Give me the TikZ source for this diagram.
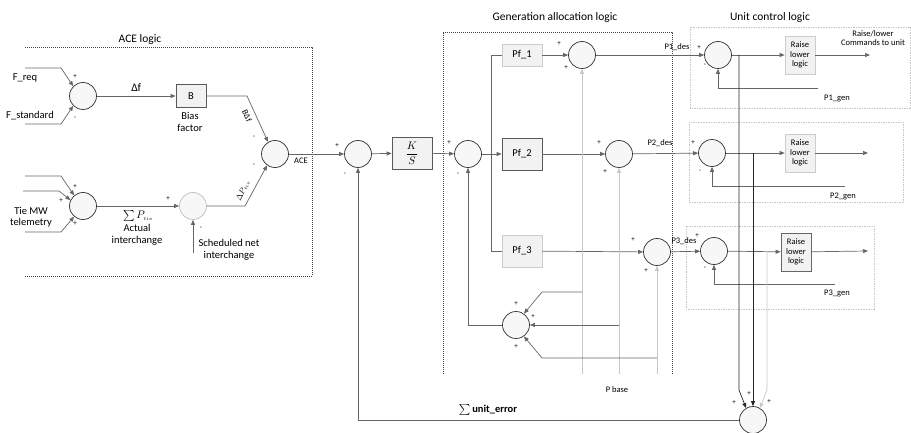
\documentclass[tikz,border=0pt]{standalone}
\usepackage{fontspec}
\setmainfont{Carlito}
\usepackage{amsmath}
\usepackage{tikz}
\usetikzlibrary{arrows.meta, positioning, calc}

\begin{document}
\begin{tikzpicture}[x=1pt, y=-1pt, line width=0.7pt,
  font=\fontsize{10.5}{11.5}\selectfont,
  sum/.style={draw=black!80, fill=black!3, circle, minimum size=27pt, inner sep=0pt},
  sumlt/.style={sum, draw=black!25},
  blk/.style={draw=black!65, fill=black!5, minimum width=40pt, minimum height=32pt, inner sep=1pt},
  blklt/.style={blk, draw=black!20},
  rl/.style={blklt, minimum width=30pt, minimum height=38pt, align=center, font=\fontsize{8.5}{9.5}\selectfont},
  arr/.style={draw=black!60, -{Triangle[length=5pt,width=4pt]}},
  arrlt/.style={draw=black!22, -{Triangle[length=5pt,width=4pt]}},
  line/.style={draw=black!60},
  dbox/.style={draw=black!75, line width=0.5pt, dash pattern=on 1pt off 1pt},
  ubox/.style={draw=black!22, line width=0.5pt, dash pattern=on 1.5pt off 1pt},
  sgn/.style={font=\fontsize{7}{7}\selectfont, inner sep=0pt},
  sml/.style={font=\fontsize{8.5}{9.5}\selectfont},
  ttl/.style={font=\fontsize{11.5}{12.5}\selectfont}]
  \useasboundingbox (0,0) rectangle (911,433);

  % group boxes
  \draw[dbox] (25,47) -- (312,47) -- (312,276) -- (25,276);
  \draw[dbox] (443,374) -- (443,32) -- (672,32) -- (672,374);
  \draw[ubox] (690,27) rectangle (910,108);
  \draw[ubox] (689,122) rectangle (903,202);
  \draw[ubox] (686,226) rectangle (874,309);
  \node[ttl] (tace) at (140,39) {ACE logic};
  \node[ttl] (tgen) at (555,17) {Generation allocation logic};
  \node[ttl] (tunit) at (770,17) {Unit control logic};

  % ACE logic
  \node[sum] (sf) at (83,96) {};
  \node[sum] (st) at (83,206) {};
  \node[blk, minimum width=30pt, minimum height=23pt] (b) at (191,96) {B};
  \node[sumlt] (ss) at (193,206) {};
  \node[sum] (sa) at (275,154) {};
  \node[align=center] (bias) at (190,122) {Bias\\factor};

  \coordinate (freq) at (25,68);
  \coordinate (fstd) at (25,124);
  \coordinate (tie1) at (25,176);
  \coordinate (tie2) at (23,191);
  \coordinate (tie3) at (25,232);
  \coordinate (sched) at (193,253);

  \draw[arr] (freq) -- ++(36,0) -- (sf.135);
  \draw[arr] (fstd) -- ++(36,0) -- (sf.225);
  \draw[arr] (tie1) -- ++(36,0) -- (st.130);
  \draw[arr] (tie2) -- ++(36,0) -- (st.155);
  \draw[arr] (tie3) -- ++(36,0) -- (st.230);
  \draw[arr] (sf) -- node[above=1pt, font=\fontsize{11.5}{12}\selectfont] {Δf} (b);
  \draw[arr] (b) -- ++(56,0) -- (sa.120);
  \draw[arr] (st) -- node[below=1pt] {$\sum P_{\scriptscriptstyle tie}$} (ss);
  \draw[arr] (sched) -- (ss);
  \draw[arr] (ss) -- ++(52,0) -- (sa.235);
  \node[sml, rotate=-65, inner sep=0pt] (lbdf) at (247,116) {BΔf};
  \node[sml, rotate=65, inner sep=0pt] (ldp) at (243,191) {$\Delta P_{\scriptscriptstyle tie}$};

  \node (lfreq) at (25,78) {F\_req};
  \node (lfstd) at (30,116) {F\_standard};
  \node[align=center] (ltie) at (31,217) {Tie MW\\telemetry};
  \node[align=center] (lact) at (137,235) {Actual\\interchange};
  \node[align=center] (lsch) at (229,250) {Scheduled net\\interchange};

  % control loop
  \node[sum] (s1) at (358,154) {};
  \node[blk] (ks) at (412,153) {$\dfrac{K}{S}$};
  \node[sum] (s2) at (468,154) {};
  \draw[arr] (sa) -- node[pos=0.22, below, sml] {ACE} (s1);
  \draw[arr] (s1) -- (ks);
  \draw[arr] (ks) -- (s2);

  % generation allocation
  \node[blklt, minimum height=22pt] (pf1) at (522,55) {Pf\_1};
  \node[blk] (pf2) at (522,154) {Pf\_2};
  \node[blklt] (pf3) at (522,251) {Pf\_3};
  \node[sum] (g1) at (582,55) {};
  \node[sum] (g2) at (619,154) {};
  \node[sum] (g3) at (657,252) {};
  \node[sum] (gb) at (516,325) {};
  \coordinate (pb1) at (582,374);
  \coordinate (pb2) at (619,374);
  \coordinate (pb3) at (657,374);

  \draw[arr] (s2) -- (pf2);
  \draw[line] (pf1.west) -- ++(-10,0) |- (pf3.west);
  \draw[arr] (pf1) -- (g1);
  \draw[arr] (pf2) -- (g2);
  \draw[arr] (pf3) -- (g3);
  \draw[arrlt] (pb1) -- (g1);
  \draw[arrlt] (pb2) -- (g2);
  \draw[arrlt] (pb3) -- (g3);
  \draw[arr] (pb1) ++(0,-82) -- ++(-40,0) -- (gb.55);
  \draw[arr] (pb2 |- gb) -- (gb);
  \draw[arr] (pb3) ++(0,-16) -- ++(-115,0) -- (gb.305);
  \draw[arr] (gb) -| (s2);
  \node[sml] (lpb) at (617,390) {P base};

  % unit control
  \node[sum] (u1) at (718,55) {};
  \node[sum] (u2) at (712,153) {};
  \node[sum] (u3) at (714,251) {};
  \node[rl] (r1) at (800,55) {Raise\\lower\\logic};
  \node[rl] (r2) at (800,153) {Raise\\lower\\logic};
  \node[rl, draw=black!60] (r3) at (796,252) {Raise\\lower\\logic};
  \coordinate (out1) at (870,55);
  \coordinate (out2) at (868,153);
  \coordinate (out3) at (868,251);
  \coordinate (gen1) at (818,88);
  \coordinate (gen2) at (845,186);
  \coordinate (gen3) at (835,284);

  \draw[arr] (g1) -- (u1);
  \draw[arr] (g2) -- (u2);
  \draw[arr] (g3) -- (u3);
  \draw[arr] (u1) -- (r1);
  \draw[arr] (u2) -- (r2);
  \draw[arr] (u3) -- (r3);
  \draw[arr] (r1) -- (out1);
  \draw[arr] (r2) -- (out2);
  \draw[arr] (r3) -- (out3);
  \draw[arr] (gen1) -| (u1);
  \draw[arr] (gen2) -| (u2);
  \draw[arr] (gen3) -| (u3);

  \node[sml] (lp1d) at (677,47) {P1\_des};
  \node[sml] (lp2d) at (660,143) {P2\_des};
  \node[sml] (lp3d) at (684,241) {P3\_des};
  \node[sml] (lp1g) at (837,98) {P1\_gen};
  \node[sml] (lp2g) at (843,196) {P2\_gen};
  \node[sml] (lp3g) at (837,293) {P3\_gen};
  \node[sml, align=center] (lcmd) at (873,38) {Raise/lower\\Commands to unit};

  % unit error
  \node[sum] (ue) at (753,420) {};
  \draw[arr, draw=black!85] (u1) ++(21,0) -- ++(0,335) -- (ue.120);
  \draw[arr, draw=black!85] (u2) ++(41,0) -- (ue);
  \draw[arrlt] (u3) ++(53,0) -- ++(0,139) -- (ue.60);
  \draw[arr] (ue) -| (s1);
  \node (lue) at (488,410) {$\sum$\,\textbf{unit\_error}};

  % signs
  \foreach \x/\y/\s in {75/77/+, 75/118/-, 75/187/+, 61/201/+, 75/224/+,
      168/199/+, 201/228/-, 254/137/-, 254/165/-, 337/146/+, 345/174/-,
      449/143/+, 458/174/-, 559/44/+, 566/68/+, 599/143/+, 605/172/+,
      633/240/+, 646/271/+, 516/304/+, 533/317/+, 516/347/+,
      699/48/+, 705/65/-, 693/143/+, 700/171/-, 697/236/+, 705/268/-,
      734/403/+, 749/394/+, 769/402/+}
    \node[sgn] at (\x,\y) {\s};
\end{tikzpicture}
\end{document}
